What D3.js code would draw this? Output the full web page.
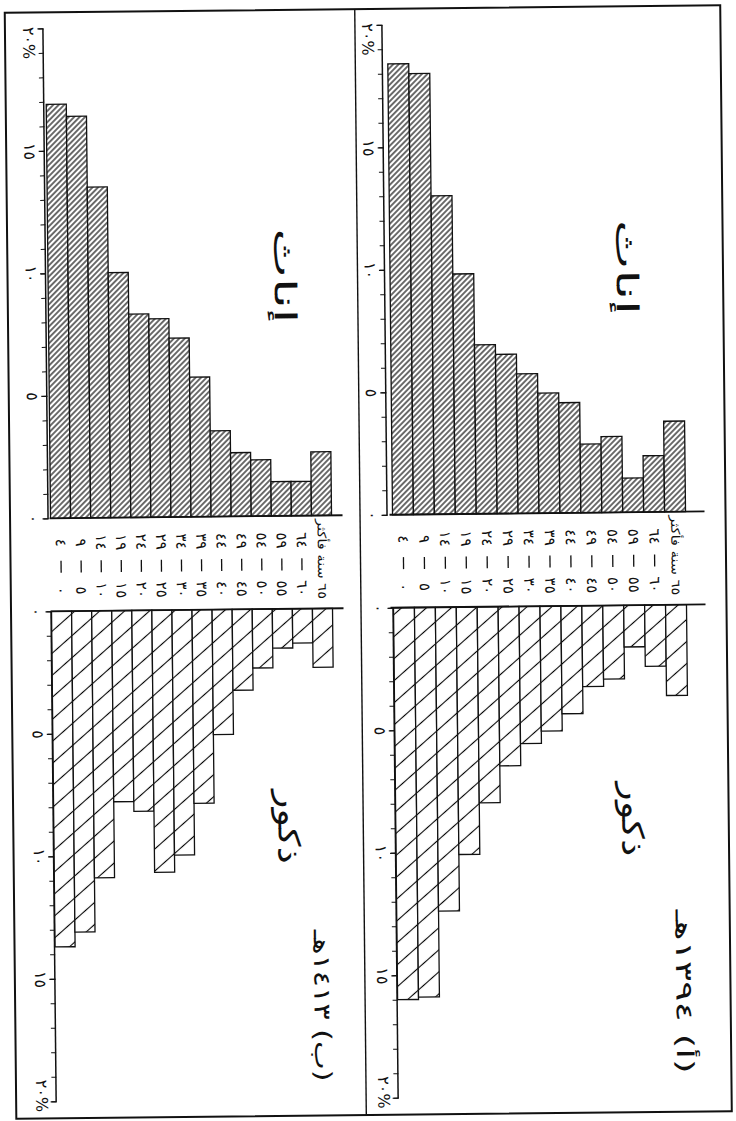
<!DOCTYPE html>
<html>
<head>
<meta charset="utf-8">
<script src="https://cdn.jsdelivr.net/npm/d3@7"></script>
<style>
  html, body { margin: 0; padding: 0; background: #fff; }
  svg { display: block; }
  text { font-family: "DejaVu Sans", sans-serif; fill: #111; }
</style>
</head>
<body>
<svg id="chart" width="736" height="1121"></svg>
<script>
// ---------------- DATA ----------------
const ageGroups = ["0-4","5-9","10-14","15-19","20-24","25-29","30-34","35-39","40-44","45-49","50-54","55-59","60-64","65+"];
const ageFrom   = ["٠","٥","١٠","١٥","٢٠","٢٥","٣٠","٣٥","٤٠","٤٥","٥٠","٥٥","٦٠"];
const ageTo     = ["٤","٩","١٤","١٩","٢٤","٢٩","٣٤","٣٩","٤٤","٤٩","٥٤","٥٩","٦٤"];
const ageOpen   = "٦٥ سنة فأكثر";

// (أ) 1394 H  — percentages
const females1394 = [18.4, 18.0, 13.0, 9.8, 6.9, 6.5, 5.7, 4.9, 4.5, 2.8, 3.1, 1.4, 2.3, 3.7];
const males1394   = [16.0, 15.9, 12.4, 10.1, 8.0, 6.5, 5.6, 5.1, 4.4, 3.3, 3.0, 1.7, 2.5, 3.7];
// (ب) 1413 H  — percentages
const females1413 = [16.9, 16.4, 13.5, 10.0, 8.3, 8.1, 7.3, 5.7, 3.5, 2.6, 2.3, 1.4, 1.4, 2.6];
const males1413   = [13.7, 13.1, 10.9, 7.8, 8.2, 10.7, 10.0, 7.9, 5.1, 3.3, 2.4, 1.6, 1.4, 2.4];

const minorTicks = d3.range(0, 21, 1);
const majorTicks = [0, 5, 10, 15, 20];
const majorTickLabels = ["٠", "٥", "١٠", "١٥", "٢٠%"];

const titles = ["(أ) ١٣٩٤هـ", "(ب) ١٤١٣هـ"];
const femaleLabel = "إناث";
const maleLabel = "ذكور";

// ---------------- LAYOUT (drawn upright, then turned a quarter) ----------------
const femZero = 515, maleZero = 608, pxPerPct = 24.5;
const panels = [
  { title: titles[0], females: females1394, males: males1394,
    bandTop: 50, bandBottom: 343, femAxisY: 348, maleAxisY: 343, baseFrom: 31, baseTo: 346,
    titlePos: [995, 56], titleLen: 164, femPos: [270, 106], malePos: [822, 106] },
  { title: titles[1], females: females1413, males: males1413,
    bandTop: 404, bandBottom: 685, femAxisY: 687, maleAxisY: 685, baseFrom: 393, baseTo: 686,
    titlePos: [1005, 418], titleLen: 152, femPos: [275, 448], malePos: [826, 450] }
];

const svg = d3.select("#chart");
svg.append("rect").attr("width", 736).attr("height", 1121).attr("fill", "#fff");

const defs = svg.append("defs");
function hatch(id, spacing, angle, sw) {
  const p = defs.append("pattern").attr("id", id)
    .attr("patternUnits", "userSpaceOnUse")
    .attr("width", spacing).attr("height", spacing)
    .attr("patternTransform", `rotate(${angle})`);
  p.append("rect").attr("width", spacing).attr("height", spacing).attr("fill", "#fff");
  p.append("line").attr("x1", spacing / 2).attr("x2", spacing / 2)
    .attr("y1", 0).attr("y2", spacing)
    .attr("stroke", "#000").attr("stroke-width", sw);
}
hatch("hatchF", 3.9, -45, 1.15);
hatch("hatchM", 16.5, -41, 1.1);

const root = svg.append("g")
  .attr("transform", "rotate(-0.6,368,560) translate(736,0) rotate(90)");

// text stretched horizontally to a target width (keeps Arabic joining intact)
function fitText(g, txt, x, y, size, targetW, rtl) {
  const t = g.append("text").attr("text-anchor", "middle")
    .attr("dominant-baseline", "central").attr("font-size", size).text(txt);
  if (rtl) t.attr("direction", "rtl");
  const w = t.node().getComputedTextLength() || targetW;
  t.attr("transform", `translate(${x},${y}) scale(${targetW / w},1)`);
  return t;
}

// outer frame and divider
root.append("rect").attr("x", 9).attr("y", 10).attr("width", 1106).attr("height", 715.5)
  .attr("fill", "none").attr("stroke", "#111").attr("stroke-width", 2);
root.append("line").attr("x1", 9).attr("x2", 1115).attr("y1", 375.5).attr("y2", 375.5)
  .attr("stroke", "#111").attr("stroke-width", 1.4);

const xF = d3.scaleLinear().domain([0, 20]).range([femZero, femZero - 20 * pxPerPct]);
const xM = d3.scaleLinear().domain([0, 20]).range([maleZero, maleZero + 20 * pxPerPct]);

panels.forEach(p => {
  const g = root.append("g");
  const y = d3.scaleBand().domain(ageGroups).range([p.bandBottom, p.bandTop]).padding(0);

  // female bars
  g.selectAll("rect.f").data(p.females).join("rect").attr("class", "f")
    .attr("x", d => xF(d)).attr("width", d => xF(0) - xF(d))
    .attr("y", (d, i) => y(ageGroups[i])).attr("height", y.bandwidth())
    .attr("fill", "url(#hatchF)").attr("stroke", "#111").attr("stroke-width", 1.3);

  // male bars
  g.selectAll("rect.m").data(p.males).join("rect").attr("class", "m")
    .attr("x", xM(0)).attr("width", d => xM(d) - xM(0))
    .attr("y", (d, i) => y(ageGroups[i])).attr("height", y.bandwidth())
    .attr("fill", "url(#hatchM)").attr("stroke", "#111").attr("stroke-width", 1.3);

  // zero baselines
  [femZero, maleZero].forEach(z => {
    g.append("line").attr("x1", z).attr("x2", z).attr("y1", p.baseFrom).attr("y2", p.baseTo)
      .attr("stroke", "#111").attr("stroke-width", 1.8);
  });

  // value axes
  [[xF, p.femAxisY, 14], [xM, p.maleAxisY, -6]].forEach(([sc, ay, lastDx]) => {
    const minor = g.append("g").attr("transform", `translate(0,${ay})`)
      .call(d3.axisBottom(sc).tickValues(minorTicks).tickSize(5).tickSizeOuter(0).tickFormat(""));
    minor.select(".domain").attr("stroke", "#111").attr("stroke-width", 1.5);
    minor.selectAll(".tick line").attr("stroke", "#111").attr("stroke-width", 1);
    const major = g.append("g").attr("transform", `translate(0,${ay})`)
      .call(d3.axisBottom(sc).tickValues(majorTicks).tickSize(6).tickSizeOuter(0).tickPadding(3)
        .tickFormat((d, i) => majorTickLabels[i]));
    major.select(".domain").remove();
    major.selectAll(".tick line").attr("stroke", "#111").attr("stroke-width", 1.2);
    major.selectAll(".tick text")
      .attr("font-family", "DejaVu Sans").attr("font-size", 16).attr("fill", "#111")
      .attr("dx", (d, i) => i === majorTicks.length - 1 ? lastDx : 0);
  });

  // age labels
  const mid = (femZero + maleZero) / 2;
  ageGroups.forEach((a, i) => {
    const cy = y(a) + y.bandwidth() / 2;
    if (i < ageFrom.length) {
      g.append("text").attr("x", mid - 22).attr("y", cy).attr("text-anchor", "middle")
        .attr("dominant-baseline", "central").attr("font-size", 15).text(ageTo[i]);
      g.append("line").attr("x1", mid - 4).attr("x2", mid + 8).attr("y1", cy).attr("y2", cy)
        .attr("stroke", "#111").attr("stroke-width", 1.3);
      g.append("text").attr("x", mid + 26).attr("y", cy).attr("text-anchor", "middle")
        .attr("dominant-baseline", "central").attr("font-size", 15).text(ageFrom[i]);
    } else {
      fitText(g, ageOpen, mid - 3, cy, 12, 80, true);
    }
  });

  // group labels and title
  fitText(g, femaleLabel, p.femPos[0], p.femPos[1], 30, 95, true);
  fitText(g, maleLabel, p.malePos[0], p.malePos[1], 30, 74, true);
  fitText(g, p.title, p.titlePos[0], p.titlePos[1], 23, p.titleLen, true);
});
</script>
</body>
</html>
